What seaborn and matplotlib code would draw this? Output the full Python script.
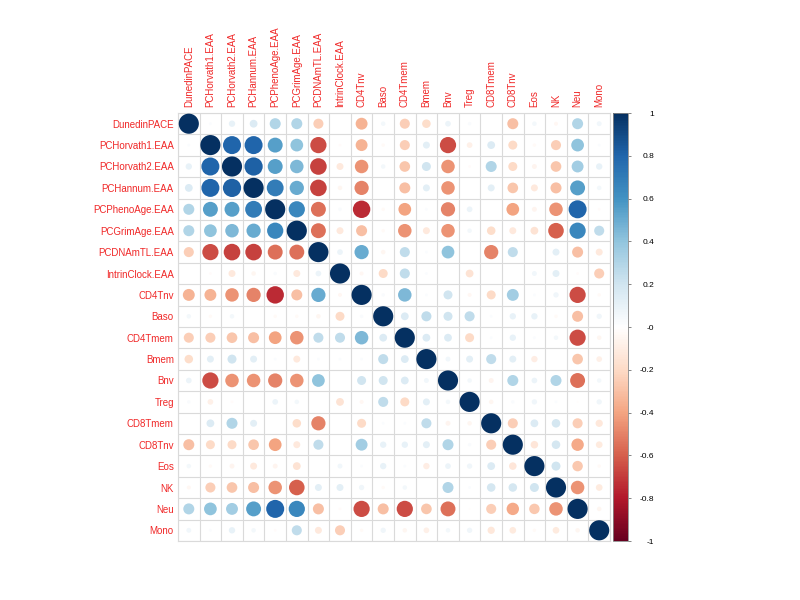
import numpy as np
import pandas as pd
import matplotlib
matplotlib.use("Agg")
import matplotlib.pyplot as plt
from matplotlib.colors import LinearSegmentedColormap
import seaborn as sns

labels = ["DunedinPACE", "PCHorvath1.EAA", "PCHorvath2.EAA", "PCHannum.EAA",
          "PCPhenoAge.EAA", "PCGrimAge.EAA", "PCDNAmTL.EAA", "IntrinClock.EAA",
          "CD4Tnv", "Baso", "CD4Tmem", "Bmem", "Bnv", "Treg", "CD8Tmem",
          "CD8Tnv", "Eos", "NK", "Neu", "Mono"]

# upper triangle, each row starts right after the diagonal
r_dunedin = [0.02, 0.10, 0.15, 0.30, 0.30, -0.25, 0.00, -0.35, 0.05,
             -0.25, -0.18, 0.08, 0.03, 0.00, -0.30, 0.05, -0.04, 0.30, 0.06]
r_horvath1 = [0.80, 0.80, 0.55, 0.40, -0.65, -0.02, -0.35, -0.03,
              -0.25, 0.12, -0.65, -0.08, 0.15, -0.20, -0.03, -0.25, 0.40, 0.02]
r_horvath2 = [0.82, 0.55, 0.45, -0.68, -0.12, -0.45, 0.05,
              -0.28, 0.20, -0.45, -0.02, 0.30, -0.20, -0.06, -0.28, 0.35, 0.10]
r_hannum = [0.70, 0.50, -0.68, -0.05, -0.50, 0.00,
            -0.30, 0.12, -0.45, 0.00, 0.12, -0.28, -0.12, -0.30, 0.55, 0.05]
r_pheno = [0.65, -0.55, 0.03, -0.75, -0.03,
           -0.40, 0.02, -0.50, 0.08, 0.00, -0.40, -0.06, -0.45, 0.80, -0.02]
r_grim = [-0.55, -0.12, -0.30, -0.03,
          -0.45, -0.12, -0.45, 0.05, -0.18, -0.12, -0.15, -0.60, 0.65, 0.25]
r_tl = [0.08, 0.50, -0.05,
        0.25, 0.02, 0.40, 0.00, -0.50, 0.25, 0.00, 0.12, -0.30, -0.12]
r_intrin = [-0.04, -0.20,
            0.25, 0.02, 0.00, -0.15, 0.00, 0.00, 0.06, 0.12, -0.02, -0.25]
r_cd4tnv = [0.03, 0.45, 0.02, 0.20, -0.04, -0.20, 0.35, 0.02, 0.07, -0.65, -0.03]
r_baso = [0.15, 0.25, 0.20, 0.25, 0.02, 0.10, 0.10, -0.03, -0.30, 0.07]
r_cd4tmem = [0.15, 0.15, -0.20, 0.02, 0.10, 0.02, 0.05, -0.65, -0.05]
r_bmem = [0.06, 0.12, 0.25, 0.12, -0.10, 0.00, -0.28, -0.08]
r_bnv = [0.05, -0.06, 0.30, 0.08, 0.30, -0.55, 0.05]
r_treg = [-0.05, 0.03, 0.07, 0.02, -0.01, 0.07]
r_cd8tmem = [-0.25, 0.15, 0.18, -0.25, -0.13]
r_cd8tnv = [-0.14, 0.18, -0.38, -0.11]
r_eos = [0.20, -0.27, -0.03]
r_nk = [-0.45, -0.11]
r_neu = [-0.05]

rows = [r_dunedin, r_horvath1, r_horvath2, r_hannum, r_pheno, r_grim, r_tl,
        r_intrin, r_cd4tnv, r_baso, r_cd4tmem, r_bmem, r_bnv, r_treg,
        r_cd8tmem, r_cd8tnv, r_eos, r_nk, r_neu]

n = len(labels)
corr = np.eye(n)
for i, vals in enumerate(rows):
    corr[i, i + 1:] = vals
    corr[i + 1:, i] = vals

ii, jj = np.meshgrid(np.arange(n), np.arange(n), indexing="ij")
df = pd.DataFrame({"row": ii.ravel(), "col": jj.ravel(), "r": corr.ravel()})
df["absr"] = df["r"].abs()

# corrplot's RdBu ramp
rdbu = LinearSegmentedColormap.from_list("corr_rdbu", [
    "#67001F", "#B2182B", "#D6604D", "#F4A582", "#FDDBC7", "#FFFFFF",
    "#D1E5F0", "#92C5DE", "#4393C3", "#2166AC", "#053061"])

plt.rcParams["font.family"] = ["Liberation Sans", "DejaVu Sans"]
plt.rcParams["axes.unicode_minus"] = False
fig = plt.figure(figsize=(8, 6), dpi=100)
ax = fig.add_axes([178 / 800, 59 / 600, 432 / 800, 428 / 600])

sns.scatterplot(data=df, x="col", y="row", hue="r", size="absr",
                palette=rdbu, hue_norm=(-1, 1), sizes=(0, 210), size_norm=(0, 1),
                linewidth=0, legend=False, ax=ax, zorder=3)

ax.set_xlim(-0.5, n - 0.5)
ax.set_ylim(n - 0.5, -0.5)
ax.set_xlabel("")
ax.set_ylabel("")
for k in range(n + 1):
    ax.axhline(k - 0.5, color="#DADADA", lw=0.8, zorder=1)
    ax.axvline(k - 0.5, color="#DADADA", lw=0.8, zorder=1)
for sp in ax.spines.values():
    sp.set_color("#DADADA")
    sp.set_linewidth(0.8)

lab_col = "#F02828"
ax.set_xticks(range(n))
ax.set_xticklabels(labels, rotation=90, color=lab_col, fontsize=7)
ax.set_yticks(range(n))
ax.set_yticklabels(labels, color=lab_col, fontsize=7)
ax.xaxis.tick_top()
ax.tick_params(axis="both", length=0)
ax.tick_params(axis="x", pad=4)
ax.tick_params(axis="y", pad=3)

cax = fig.add_axes([613 / 800, 59 / 600, 15 / 800, 428 / 600])
sm = plt.cm.ScalarMappable(cmap=rdbu, norm=plt.Normalize(-1, 1))
cb = fig.colorbar(sm, cax=cax)
ticks = np.round(np.arange(-1, 1.01, 0.2), 1)
cb.set_ticks(ticks)
cb.set_ticklabels([f"{t:g}" for t in ticks])
cb.outline.set_edgecolor("#888888")
cb.outline.set_linewidth(0.6)
cax.tick_params(length=2, width=0.5, color="#555555", labelsize=6, pad=17)
for t in cax.get_yticklabels():
    t.set_horizontalalignment("right")

fig.savefig("out.png", dpi=100, facecolor="white")
